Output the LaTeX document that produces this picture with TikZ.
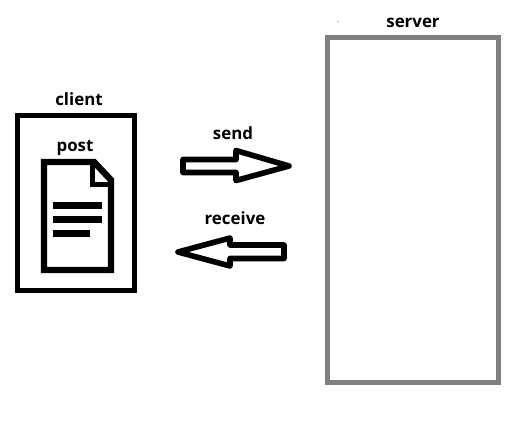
\documentclass[tikz,border=0pt]{standalone}
\usepackage{fontspec}
\setmainfont{Open Sans}
\usepackage{tikz}
\usetikzlibrary{positioning}
\definecolor{servergray}{RGB}{128, 128, 128}

\begin{document}
\begin{tikzpicture}[x=0.025cm, y=-0.025cm, every node/.style={font=\fontsize{12}{15}\selectfont\bfseries}]
    \tikzset{
        boxnode/.style={draw=#1, line width=4pt, fill=white, minimum width=0pt, minimum height=0pt, inner sep=0pt},
        labelnode/.style={inner sep=0pt, text=black},
        thickline/.style={line width=4pt, line join=round},
        docline/.style={line width=4.8pt}
    }
    \useasboundingbox (0,0) rectangle (526,421);

    % Client
    \node[boxnode=black, minimum width=117*0.025cm, minimum height=175*0.025cm] (client) at (76,203) {};
    \node[labelnode] (clientlabel) at (79,99.5) {client};
    \node[labelnode] (postlabel) at (75,148) {post};

    % Document
    \draw[line width=4.6pt, line join=miter] (44,162) -- (94,162) -- (111,180) -- (111,270) -- (44,270) -- cycle;
    \draw[line width=3.8pt, line join=miter] (92.5,162) -- (92.5,184.5) -- (111,184.5);
    \draw[docline] (53,205.5) -- (102,205.5);
    \draw[docline] (53,219.5) -- (102,219.5);
    \draw[docline] (53,233.5) -- (90,233.5);

    % Arrows
    \node[labelnode] (sendlabel) at (233,133) {send};
    \draw[thickline] (183,159.5) -- (236,159.5) -- (236,150.5) -- (289,166) -- (236,180.5) -- (236,172.5) -- (183,172.5) -- cycle;
    \node[labelnode] (receivelabel) at (235,218) {receive};
    \draw[thickline] (284,245) -- (230,245) -- (230,238) -- (178,252) -- (230,266) -- (230,258.5) -- (284,258.5) -- cycle;

    % Server
    \node[boxnode=servergray, minimum width=171*0.025cm, minimum height=345*0.025cm] (server) at (413,210) {};
    \node[labelnode] (serverlabel) at (413,23) {server};
    \node[labelnode, font=\tiny] (dotlabel) at (338,22.5) {.};
\end{tikzpicture}
\end{document}
